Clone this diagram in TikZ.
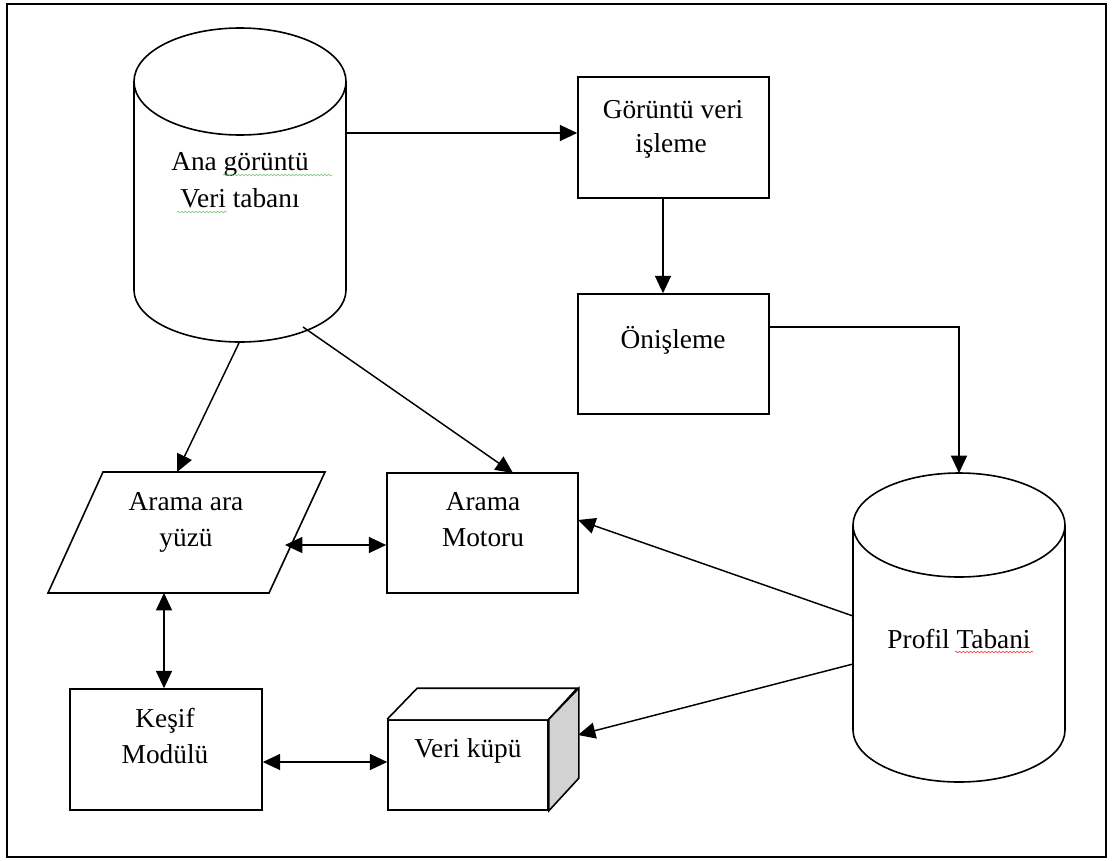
\documentclass[tikz,border=0pt]{standalone}
\usepackage{fontspec}
\setmainfont{Liberation Serif}
\usetikzlibrary{arrows.meta,decorations.pathmorphing}

\begin{document}
\begin{tikzpicture}[x=0.75pt,y=-0.75pt,
  outline/.style={draw=black, line width=1.2pt},
  box/.style={outline, rectangle, inner sep=0pt, fill=white},
  tip/.tip={Triangle[length=13pt,width=12pt]},
  link/.style={draw=black, line width=1.1pt, -tip},
  dlink/.style={draw=black, line width=1.1pt, tip-tip},
  lbl/.style={font=\fontsize{20.5}{24}\selectfont, anchor=base, inner sep=0pt},
  spell/.style={line width=0.5pt, decorate,
    decoration={snake, segment length=2.7pt, amplitude=0.55pt}},
]
% page and frame
\fill[white] (0,0) rectangle (1112,860);
\useasboundingbox (0,0) rectangle (1112,860);
\draw[line width=1.4pt] (7,4) rectangle (1106,857);

% --- image database (cylinder) ---
\draw[outline] (134,81.5) -- (134,290)
  arc[start angle=180, end angle=0, x radius=106, y radius=52] -- (346,81.5);
\draw[outline] (240,81.5) ellipse [x radius=106, y radius=53.5];
\node[lbl] (db1-t1) at (240,170) {Ana görüntü};
\node[lbl] (db1-t2) at (240,207) {Veri tabanı};
\draw[spell, green!55!black!50] (223,175) -- (332,175);
\draw[spell, green!55!black!50] (177,212) -- (227,212);
\coordinate (db1-r) at (346,133);
\coordinate (db1-b1) at (239,343);
\coordinate (db1-b2) at (303,327);

% --- profile base (cylinder) ---
\draw[outline] (853,525) -- (853,730)
  arc[start angle=180, end angle=0, x radius=106, y radius=52] -- (1065,525);
\draw[outline] (959,525) ellipse [x radius=106, y radius=52];
\node[lbl] (db2-t) at (959,648) {Profil Tabani};
\draw[spell, red!75] (955,652) -- (1033,652);
\coordinate (db2-top) at (959,473);
\coordinate (db2-l1) at (853,616);
\coordinate (db2-l2) at (853,664);

% --- processing boxes ---
\node[box, minimum width=143.25pt, minimum height=90.75pt] (gvi) at (673.5,137.5) {};
\node[lbl] (gvi-t1) at (673,118) {Görüntü veri};
\node[lbl] (gvi-t2) at (671,152) {işleme};

\node[box, minimum width=143.25pt, minimum height=90pt] (oni) at (673.5,354) {};
\node[lbl] (oni-t) at (673,348) {Önişleme};

% --- search interface (parallelogram) ---
\draw[outline] (103,472) -- (325,472) -- (269,593) -- (48,593) -- cycle;
\node[lbl] (aay-t1) at (186,510) {Arama ara};
\node[lbl] (aay-t2) at (186,546) {yüzü};
\coordinate (aay-top) at (177,472);
\coordinate (aay-r) at (285,545);
\coordinate (aay-b) at (164,593);

% --- search engine ---
\node[box, minimum width=143.25pt, minimum height=90pt] (motor) at (482.5,533) {};
\node[lbl] (motor-t1) at (483,510) {Arama};
\node[lbl] (motor-t2) at (483,546) {Motoru};
\coordinate (motor-in) at (513,473);
\coordinate (motor-r) at (578,520);

% --- discovery module ---
\node[box, minimum width=144pt, minimum height=90.75pt] (kesif) at (166,749.5) {};
\node[lbl] (kesif-t1) at (165,727) {Keşif};
\node[lbl] (kesif-t2) at (165,763) {Modülü};

% --- data cube ---
\node[box, minimum width=120pt, minimum height=67.5pt] (vk) at (468,765) {};
\draw[outline, fill=white] (vk.north west) -- ++(30,-31) -- ++(160,0) -- (vk.north east);
\draw[outline, fill=gray!35] (vk.north east) -- ++(30,-31) -- ++(0,90) -- (vk.south east) -- cycle;
\node[lbl] (vk-t) at (468,757) {Veri küpü};
\coordinate (vk-r) at (578,735);

% --- connectors ---
\coordinate (gv-x) at (663,0);
\coordinate (on-y) at (0,327);
\coordinate (kv-y) at (0,762);
\draw[link] (db1-r) -- (gvi.west |- db1-r);
\draw[link] (gvi.south -| gv-x) -- (oni.north -| gv-x);
\draw[link] (oni.east |- on-y) -| (db2-top);
\draw[link] (db1-b1) -- (aay-top);
\draw[link] (db1-b2) -- (motor-in);
\draw[dlink] (aay-r) -- (motor.west |- aay-r);
\draw[dlink] (aay-b) -- (kesif.north -| aay-b);
\draw[dlink] (kesif.east |- kv-y) -- (vk.west |- kv-y);
\draw[link] (db2-l1) -- (motor-r);
\draw[link] (db2-l2) -- (vk-r);
\end{tikzpicture}
\end{document}
